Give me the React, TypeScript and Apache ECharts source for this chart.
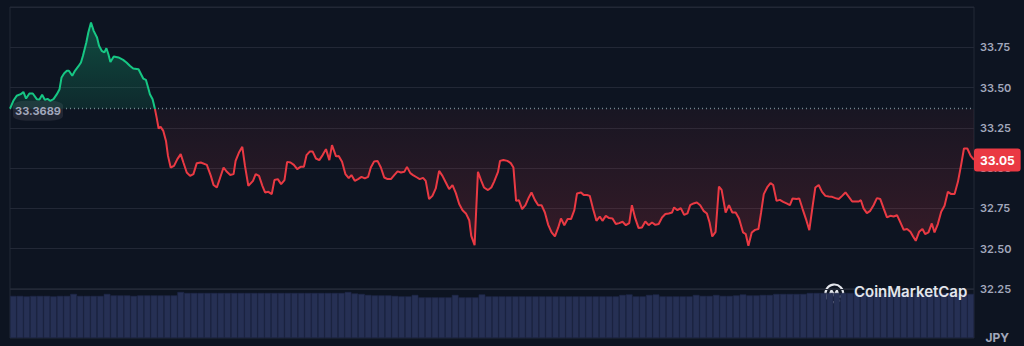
import React, { useEffect, useRef } from 'react';
import * as echarts from 'echarts';

// minutes since the start of the 24h window
const times = [
  0, 5, 10, 16, 20, 24, 29, 34, 40, 44, 48, 52, 56, 60, 65, 70, 74, 77, 81, 85, 88, 93, 97, 102, 106, 109, 114, 117, 121, 125,
  130, 133, 137, 141, 144, 147, 150, 155, 162, 169, 174, 179, 184, 192, 195, 199, 203, 207, 209, 213, 216, 219, 222, 225, 229,
  233, 236, 240, 245, 250, 255, 259, 264, 269, 274, 279, 285, 294, 300, 304, 309, 314, 319, 324, 329, 334, 337, 342, 347, 351,
  356, 363, 367, 372, 377, 381, 386, 391, 395, 400, 405, 410, 414, 419, 424, 429, 434, 439, 443, 448, 452, 457, 462, 467, 472,
  477, 481, 487, 491, 496, 501, 506, 510, 515, 520, 525, 530, 535, 539, 544, 549, 554, 559, 564, 569, 574, 579, 584, 589, 593,
  598, 602, 608, 612, 617, 621, 626, 631, 636, 641, 646, 651, 656, 661, 666, 671, 676, 681, 686, 689, 694, 699, 704, 708, 714,
  719, 723, 729, 732, 737, 743, 748, 752, 756, 760, 765, 770, 775, 779, 784, 789, 794, 799, 804, 809, 814, 819, 823, 828, 833,
  838, 843, 847, 853, 857, 862, 866, 871, 876, 881, 885, 890, 895, 900, 905, 910, 915, 920, 925, 929, 934, 939, 944, 949, 954,
  959, 964, 969, 974, 979, 984, 989, 992, 997, 1002, 1007, 1012, 1016, 1021, 1026, 1031, 1036, 1041, 1045, 1049, 1054, 1059, 1063,
  1069, 1074, 1079, 1084, 1089, 1095, 1099, 1103, 1108, 1113, 1118, 1122, 1126, 1131, 1136, 1140, 1145, 1150, 1155, 1160, 1165,
  1169, 1175, 1179, 1184, 1189, 1194, 1199, 1203, 1208, 1213, 1218, 1223, 1228, 1233, 1238, 1243, 1248, 1253, 1258, 1263, 1268,
  1271, 1275, 1280, 1285, 1290, 1295, 1300, 1305, 1310, 1315, 1320, 1325, 1330, 1335, 1340, 1345, 1349, 1353, 1358, 1363, 1367,
  1372, 1377, 1381, 1386, 1391, 1396, 1401, 1406, 1411, 1416, 1421, 1425, 1430, 1435, 1440,
];

const prices = [
  33.3689, 33.418, 33.449, 33.459, 33.473, 33.432, 33.463, 33.463, 33.428, 33.426, 33.455, 33.424, 33.43, 33.418, 33.428,
  33.459, 33.49, 33.563, 33.589, 33.604, 33.604, 33.573, 33.604, 33.631, 33.656, 33.697, 33.78, 33.842, 33.904, 33.852,
  33.811, 33.759, 33.728, 33.718, 33.744, 33.707, 33.659, 33.693, 33.687, 33.672, 33.656, 33.635, 33.618, 33.614, 33.589,
  33.556, 33.548, 33.49, 33.459, 33.428, 33.377, 33.315, 33.246, 33.256, 33.231, 33.169, 33.076, 33.004, 33.014, 33.056,
  33.087, 33.035, 32.973, 32.952, 32.963, 33.031, 33.035, 33.02, 32.952, 32.895, 32.88, 32.942, 33.004, 32.977, 32.958,
  32.963, 33.045, 33.097, 33.132, 33.014, 32.89, 32.921, 32.963, 32.952, 32.89, 32.849, 32.853, 32.839, 32.926, 32.932,
  32.901, 32.926, 33.039, 33.035, 33.02, 32.994, 33.008, 33.008, 33.081, 33.104, 33.104, 33.06, 33.05, 33.081, 33.118,
  33.05, 33.143, 33.073, 33.076, 33.039, 32.963, 32.938, 32.957, 32.921, 32.932, 32.946, 32.936, 32.946, 33.004, 33.042,
  33.045, 33.004, 32.942, 32.932, 32.932, 32.957, 32.98, 32.973, 32.977, 33.008, 32.969, 32.957, 32.942, 32.932, 32.94,
  32.921, 32.808, 32.828, 32.874, 32.983, 32.952, 32.911, 32.87, 32.895, 32.845, 32.777, 32.739, 32.719, 32.677, 32.58,
  32.522, 32.977, 32.921, 32.88, 32.864, 32.88, 32.915, 32.977, 33.045, 33.051, 33.045, 33.031, 33.004, 32.797, 32.801,
  32.746, 32.77, 32.818, 32.849, 32.803, 32.77, 32.77, 32.725, 32.648, 32.601, 32.576, 32.632, 32.688, 32.646, 32.684,
  32.684, 32.739, 32.843, 32.849, 32.833, 32.833, 32.828, 32.746, 32.673, 32.7, 32.673, 32.704, 32.69, 32.688, 32.653,
  32.659, 32.667, 32.646, 32.659, 32.77, 32.688, 32.628, 32.632, 32.669, 32.646, 32.663, 32.648, 32.653, 32.694, 32.715,
  32.719, 32.725, 32.756, 32.739, 32.752, 32.71, 32.719, 32.77, 32.781, 32.787, 32.77, 32.735, 32.719, 32.663, 32.576,
  32.605, 32.886, 32.865, 32.725, 32.77, 32.725, 32.725, 32.688, 32.601, 32.591, 32.518, 32.601, 32.617, 32.622, 32.725,
  32.839, 32.88, 32.907, 32.895, 32.797, 32.803, 32.791, 32.781, 32.77, 32.812, 32.808, 32.812, 32.746, 32.684, 32.615,
  32.766, 32.88, 32.895, 32.853, 32.828, 32.824, 32.822, 32.814, 32.808, 32.828, 32.849, 32.822, 32.793, 32.793, 32.793,
  32.801, 32.75, 32.721, 32.735, 32.77, 32.814, 32.808, 32.75, 32.694, 32.704, 32.7, 32.708, 32.663, 32.617, 32.622,
  32.605, 32.576, 32.549, 32.605, 32.622, 32.591, 32.601, 32.657, 32.601, 32.653, 32.729, 32.766, 32.853, 32.839, 32.839,
  32.915, 33.025, 33.122, 33.122, 33.076, 33.052,
];

const volumes = [
  86, 86, 85, 86, 86, 86, 85, 86, 86, 90, 86, 86, 86, 86, 90, 87, 87, 87, 86, 87, 87, 87, 87, 87, 87, 94,
  92, 92, 92, 92, 92, 92, 92, 92, 92, 92, 92, 92, 92, 92, 92, 92, 92, 92, 92, 92, 92, 92, 92, 92, 94,
  91, 90, 88, 87, 87, 87, 86, 85, 85, 88, 83, 83, 83, 83, 83, 88, 83, 83, 83, 89,
  85, 85, 85, 85, 85, 85, 85, 85, 85, 85, 85, 85, 85, 85, 85, 85, 85, 85, 85, 85, 88, 89, 85, 85, 88, 89,
  85, 85, 85, 85, 85, 88, 86, 86, 88, 86, 86, 87, 89, 87, 87, 88, 88, 90, 90, 90, 90, 90,
  92, 92, 92, 92, 92, 92, 92, 92, 92, 92, 92, 92, 92, 92, 92, 92, 92, 92, 92, 92, 92, 92, 92, 91, 90,
];

const priceAxisMin = 32.25;
const priceAxisMax = 34.0;
const priceAxisStep = 0.25;
const baselinePrice = 33.3689;
const currencyLabel = 'JPY';
const brandName = 'CoinMarketCap';

const GREEN = '#16c784';
const RED = '#ea3943';
const BG = '#0d1421';
const GRID_LINE = '#222836';
const LABEL = '#a1a7bb';

const PLOT_LEFT = 10;
const PLOT_RIGHT = 50;
const PRICE_TOP = 7;
const PRICE_BOTTOM_Y = 289;
const VOL_BOTTOM_Y = 338;
const H = 346;

export default function App() {
  const ref = useRef<HTMLDivElement>(null);

  useEffect(() => {
    const chart = echarts.init(ref.current!, null, { renderer: 'svg' });
    const f = (priceAxisMax - baselinePrice) / (priceAxisMax - priceAxisMin);
    const last = prices[prices.length - 1];

    const lineGrad = new echarts.graphic.LinearGradient(
      0, PRICE_TOP, 0, PRICE_BOTTOM_Y,
      [
        { offset: 0, color: GREEN },
        { offset: f, color: GREEN },
        { offset: f, color: RED },
        { offset: 1, color: RED },
      ],
      true
    );
    const areaGrad = new echarts.graphic.LinearGradient(
      0, PRICE_TOP, 0, PRICE_BOTTOM_Y,
      [
        { offset: 0, color: 'rgba(22,199,132,0.5)' },
        { offset: f, color: 'rgba(22,199,132,0.17)' },
        { offset: f, color: 'rgba(234,57,67,0.07)' },
        { offset: 1, color: 'rgba(234,57,67,0.32)' },
      ],
      true
    );

    const lineData = times.map((t, i) => [t, prices[i]]);

    chart.setOption({
      animation: false,
      backgroundColor: BG,
      textStyle: { fontFamily: 'Inter, "Noto Sans", sans-serif' },
      grid: [
        {
          left: PLOT_LEFT, right: PLOT_RIGHT, top: PRICE_TOP, bottom: H - PRICE_BOTTOM_Y,
          show: true, borderColor: GRID_LINE, borderWidth: 1,
        },
        {
          left: PLOT_LEFT, right: PLOT_RIGHT, top: PRICE_BOTTOM_Y, bottom: H - VOL_BOTTOM_Y,
          show: true, borderColor: GRID_LINE, borderWidth: 1,
        },
      ],
      xAxis: [
        { type: 'value', gridIndex: 0, min: 0, max: 1440, show: false },
        { type: 'category', gridIndex: 1, data: volumes.map((_, i) => i), show: false },
      ],
      yAxis: [
        {
          type: 'value', gridIndex: 0, position: 'right',
          min: priceAxisMin, max: priceAxisMax, interval: priceAxisStep,
          axisLine: { show: false }, axisTick: { show: false },
          splitLine: { show: true, lineStyle: { color: GRID_LINE, width: 1 } },
          axisLabel: {
            color: LABEL, fontSize: 11, fontWeight: 600, margin: 6,
            showMaxLabel: false,
            formatter: (v: number) => v.toFixed(2),
          },
        },
        { type: 'value', gridIndex: 1, min: 0, max: 100, show: false },
      ],
      series: [
        {
          type: 'bar', xAxisIndex: 1, yAxisIndex: 1, data: volumes,
          barCategoryGap: '0%', silent: true,
          itemStyle: { color: '#263054', borderColor: '#1f2747', borderWidth: 0.6 },
        },
        {
          type: 'line', xAxisIndex: 0, yAxisIndex: 0, data: lineData,
          showSymbol: false, symbol: 'none', z: 5,
          lineStyle: { width: 2, color: lineGrad },
          areaStyle: { origin: baselinePrice, color: areaGrad },
          markLine: {
            silent: true, symbol: 'none',
            data: [
              {
                yAxis: baselinePrice,
                lineStyle: { type: [1, 3], color: 'rgba(160,166,182,0.75)', width: 1.3 },
                label: { show: false },
              },
              {
                yAxis: last,
                lineStyle: { color: 'rgba(0,0,0,0)', width: 0 },
                label: {
                  show: true, position: 'end', distance: 0,
                  formatter: () => last.toFixed(2),
                  backgroundColor: RED, color: '#ffffff', opacity: 1,
                  fontSize: 12, fontWeight: 700,
                  padding: [6, 6, 5, 6], borderRadius: 3,
                },
              },
            ],
          },
          markPoint: {
            silent: true,
            data: [
              {
                coord: [0, baselinePrice],
                symbol: 'roundRect', symbolSize: [50, 20], symbolOffset: [28, 2],
                itemStyle: { color: '#212633' },
                label: {
                  show: true, position: 'inside',
                  formatter: () => baselinePrice.toFixed(4),
                  color: LABEL, fontSize: 11, fontWeight: 700,
                },
              },
            ],
          },
        },
      ],
      graphic: [
        {
          type: 'group', left: 823, top: 282, z: 20,
          children: [
            {
              type: 'arc',
              shape: { cx: 10, cy: 10, r: 8.8, startAngle: Math.PI * 0.28, endAngle: Math.PI * 0.05, clockwise: true },
              style: { stroke: '#e3e6ec', lineWidth: 2.2, fill: 'none' },
            },
            {
              type: 'polyline',
              shape: { points: [[4.8, 14.5], [7.2, 7.2], [10, 12.5], [12.6, 7.2], [14.6, 13.6], [18.6, 11.8]], smooth: 0.25 },
              style: { stroke: '#e3e6ec', lineWidth: 2.2, fill: 'none' },
            },
          ],
        },
        {
          type: 'text', left: 854, top: 284, z: 20,
          style: { text: brandName, fill: '#e3e6ec', font: '600 15px Inter, sans-serif' },
        },
        {
          type: 'text', right: 15, bottom: 3,
          style: { text: currencyLabel, fill: LABEL, font: '700 12px Inter, sans-serif' },
        },
      ],
    });

    return () => chart.dispose();
  }, []);

  return (
    <div
      ref={ref}
      style={{ position: 'fixed', left: 0, top: 0, width: 1024, height: 346, background: BG }}
    />
  );
}
